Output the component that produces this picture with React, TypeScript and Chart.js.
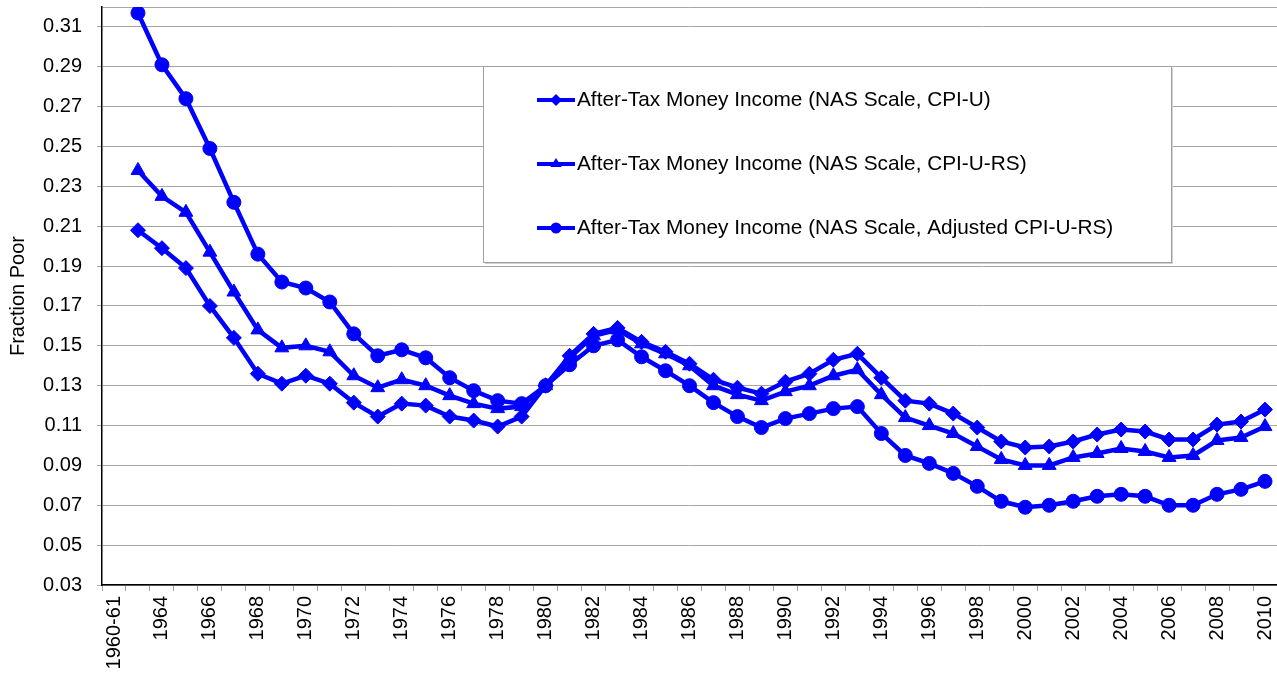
import React, { useEffect, useRef } from 'react';
import { Chart, registerables } from 'chart.js';

Chart.register(...registerables);

const categories = [
  '1960-61', '1963', '1964', '1965', '1966', '1967', '1968', '1969', '1970', '1971',
  '1972', '1973', '1974', '1975', '1976', '1977', '1978', '1979', '1980', '1981',
  '1982', '1983', '1984', '1985', '1986', '1987', '1988', '1989', '1990', '1991',
  '1992', '1993', '1994', '1995', '1996', '1997', '1998', '1999', '2000', '2001',
  '2002', '2003', '2004', '2005', '2006', '2007', '2008', '2009', '2010',
];

const seriesNames = [
  'After-Tax Money Income (NAS Scale, CPI-U)',
  'After-Tax Money Income (NAS Scale, CPI-U-RS)',
  'After-Tax Money Income (NAS Scale, Adjusted CPI-U-RS)',
];

const cpiU = [
  null,
  0.208, 0.199, 0.189, 0.170, 0.154, 0.136, 0.131, 0.135, 0.131, 0.1215, 0.1145,
  0.121, 0.120, 0.1145, 0.1125, 0.1095, 0.1145,
  0.130, 0.145, 0.156, 0.159, 0.152, 0.147, 0.141, 0.133, 0.129, 0.126,
  0.132, 0.136, 0.143, 0.146, 0.134, 0.1225, 0.121, 0.116, 0.109, 0.102,
  0.099, 0.0995, 0.102, 0.1055, 0.108, 0.107, 0.103, 0.103, 0.1105, 0.112, 0.118,
];

const cpiURS = [
  null,
  0.238, 0.225, 0.217, 0.197, 0.177, 0.158, 0.149, 0.150, 0.147, 0.135, 0.129,
  0.133, 0.130, 0.125, 0.121, 0.1185, 0.1195,
  0.130, 0.144, 0.155, 0.158, 0.151, 0.146, 0.140, 0.130, 0.1255, 0.1225,
  0.127, 0.130, 0.135, 0.138, 0.1255, 0.114, 0.110, 0.106, 0.0995, 0.093,
  0.090, 0.090, 0.094, 0.096, 0.0985, 0.097, 0.094, 0.095, 0.1025, 0.104, 0.1095,
];

const adjCpiURS = [
  null,
  0.317, 0.291, 0.274, 0.249, 0.222, 0.196, 0.182, 0.179, 0.172, 0.156, 0.145,
  0.148, 0.144, 0.134, 0.1275, 0.1225, 0.121,
  0.130, 0.1405, 0.150, 0.153, 0.1445, 0.1375, 0.130, 0.1215, 0.1145, 0.109,
  0.1135, 0.116, 0.1185, 0.1195, 0.106, 0.095, 0.091, 0.086, 0.0795, 0.072,
  0.069, 0.070, 0.072, 0.0745, 0.0755, 0.0745, 0.070, 0.070, 0.0755, 0.078, 0.082,
];

const yTickValues = [
  0.03, 0.05, 0.07, 0.09, 0.11, 0.13, 0.15, 0.17, 0.19, 0.21, 0.23, 0.25, 0.27, 0.29, 0.31, 0.32,
];

const BLUE = '#0000ff';
const GRID = '#a6a6a6';
const FONT_FAMILY = '"Liberation Sans", Arial, Helvetica, sans-serif';

function drawMarker(ctx: CanvasRenderingContext2D, style: string, x: number, y: number, r: number) {
  ctx.beginPath();
  if (style === 'rectRot') {
    ctx.moveTo(x, y - r);
    ctx.lineTo(x + r, y);
    ctx.lineTo(x, y + r);
    ctx.lineTo(x - r, y);
  } else if (style === 'triangle') {
    ctx.moveTo(x, y - r);
    ctx.lineTo(x + r * 0.95, y + r * 0.5);
    ctx.lineTo(x - r * 0.95, y + r * 0.5);
  } else {
    ctx.arc(x, y, r, 0, Math.PI * 2);
  }
  ctx.closePath();
  ctx.fill();
}

const zeroPad = (s: any) => {
  s.paddingLeft = 0;
  s.paddingRight = 0;
  s.paddingTop = 0;
  s.paddingBottom = 0;
};

const boxLegend = {
  id: 'boxLegend',
  afterDraw(chart: any) {
    const ctx: CanvasRenderingContext2D = chart.ctx;
    const x = 483;
    const y = 66;
    const w = 688;
    const h = 196;
    ctx.save();
    ctx.fillStyle = '#d0d0d0';
    ctx.fillRect(x + 2, y + 2, w, h);
    ctx.fillStyle = '#ffffff';
    ctx.fillRect(x, y, w, h);
    ctx.strokeStyle = '#a0a0a0';
    ctx.lineWidth = 1;
    ctx.strokeRect(x + 0.5, y + 0.5, w, h);
    const rows = [100, 164, 228];
    chart.data.datasets.forEach((ds: any, i: number) => {
      const ry = rows[i];
      ctx.strokeStyle = ds.borderColor;
      ctx.lineWidth = 4;
      ctx.beginPath();
      ctx.moveTo(537, ry);
      ctx.lineTo(575, ry);
      ctx.stroke();
      ctx.fillStyle = ds.borderColor;
      drawMarker(ctx, ds.pointStyle, 556, ry, ds.pointStyle === 'circle' ? 5.5 : 6);
      ctx.fillStyle = '#000000';
      ctx.font = `20.8px ${FONT_FAMILY}`;
      ctx.textBaseline = 'middle';
      ctx.textAlign = 'left';
      ctx.fillText(ds.label, 577, ry);
    });
    ctx.restore();
  },
};

export default function App() {
  const canvasRef = useRef<HTMLCanvasElement | null>(null);

  useEffect(() => {
    if (!canvasRef.current) return;
    const font = { family: FONT_FAMILY, size: 20 };
    const chart = new Chart(canvasRef.current, {
      type: 'line',
      data: {
        labels: categories,
        datasets: [
          {
            label: seriesNames[0],
            data: cpiU,
            borderColor: BLUE,
            backgroundColor: BLUE,
            borderWidth: 4.5,
            pointStyle: 'rectRot',
            pointRadius: 7.5,
            pointBorderWidth: 1,
            pointBackgroundColor: BLUE,
            pointBorderColor: BLUE,
            tension: 0,
          },
          {
            label: seriesNames[1],
            data: cpiURS,
            borderColor: BLUE,
            backgroundColor: BLUE,
            borderWidth: 4.5,
            pointStyle: 'triangle',
            pointRadius: 8,
            pointBorderWidth: 1,
            pointBackgroundColor: BLUE,
            pointBorderColor: BLUE,
            tension: 0,
          },
          {
            label: seriesNames[2],
            data: adjCpiURS,
            borderColor: BLUE,
            backgroundColor: BLUE,
            borderWidth: 4.5,
            pointStyle: 'circle',
            pointRadius: 7,
            pointBorderWidth: 1,
            pointBackgroundColor: BLUE,
            pointBorderColor: BLUE,
            tension: 0,
          },
        ],
      },
      options: {
        animation: false,
        responsive: false,
        maintainAspectRatio: false,
        layout: { autoPadding: false, padding: { top: 7, right: 0, left: 0, bottom: 0 } },
        plugins: {
          legend: { display: false },
          tooltip: { enabled: false },
        },
        scales: {
          x: {
            type: 'category',
            offset: true,
            grid: {
              display: true,
              drawOnChartArea: false,
              drawTicks: true,
              tickLength: 6,
              color: GRID,
              offset: true,
            },
            border: { display: true, color: '#000000', width: 1.5 },
            ticks: {
              autoSkip: false,
              maxRotation: 90,
              minRotation: 90,
              padding: 5,
              color: '#000000',
              font,
              callback: (_v: any, i: number) => (i % 2 === 0 ? categories[i] : ''),
            },
            afterFit: (s: any) => {
              s.height = 92;
              zeroPad(s);
            },
          },
          y: {
            type: 'linear',
            min: 0.03,
            max: 0.32,
            afterBuildTicks: (s: any) => {
              s.ticks = yTickValues.map((v) => ({ value: v }));
            },
            grid: {
              color: GRID,
              tickLength: 5,
              tickColor: (c: any) => (c.tick && c.tick.value > 0.315 ? 'rgba(0,0,0,0)' : GRID),
            },
            border: { display: true, color: '#000000', width: 1.5 },
            ticks: {
              padding: 15,
              color: '#000000',
              font,
              callback: (v: any) => (Number(v) > 0.315 ? '' : Number(v).toFixed(2)),
            },
            title: {
              display: true,
              text: 'Fraction Poor',
              color: '#000000',
              font,
              padding: { top: 6, bottom: 0 },
            },
            afterFit: (s: any) => {
              s.width = 102;
              zeroPad(s);
            },
          },
        },
      },
      plugins: [boxLegend],
    });
    return () => chart.destroy();
  }, []);

  return (
    <div style={{ position: 'absolute', left: 0, top: 0, width: 1277, height: 677, background: '#ffffff' }}>
      <canvas ref={canvasRef} width={1277} height={677} style={{ display: 'block', width: 1277, height: 677 }} />
    </div>
  );
}
